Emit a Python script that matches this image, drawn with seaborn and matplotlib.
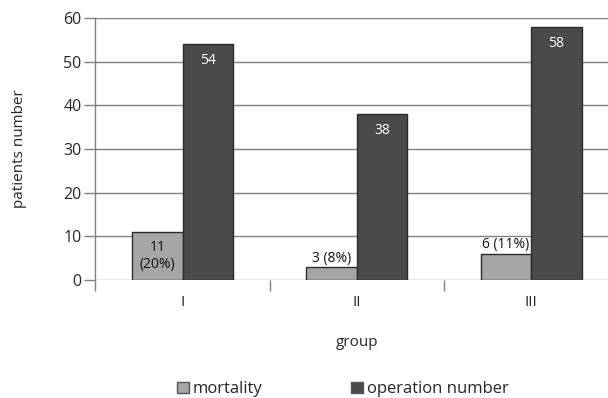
import matplotlib
matplotlib.use("Agg")
import matplotlib.pyplot as plt
import seaborn as sns
import pandas as pd
from matplotlib.patches import Patch

groups = ["I", "II", "III"]
mortality = [11, 3, 6]
mortality_pct = [20, 8, 11]
operations = [54, 38, 58]
series = ["mortality", "operation number"]

df = pd.DataFrame({
    "group": groups * 2,
    "series": [series[0]] * 3 + [series[1]] * 3,
    "value": mortality + operations,
})

sns.set_theme(style="white")
plt.rcParams["font.family"] = ["Open Sans", "DejaVu Sans"]

fill = {"mortality": "#a6a6a6", "operation number": "#4a4a4a"}

fig = plt.figure(figsize=(6.08, 3.98), dpi=100)
ax = fig.add_axes([0.157, 0.2965, 0.860, 0.658])

sns.barplot(data=df, x="group", y="value", hue="series", order=groups,
            hue_order=series, palette=fill, width=0.58, gap=0,
            edgecolor="#2b2b2b", linewidth=1.0, ax=ax, legend=False, zorder=3)

ax.set_xlim(-0.5, 2.5)
ax.set_ylim(0, 60)
ax.set_yticks(range(0, 61, 10))
ax.yaxis.grid(True, color="#808080", linewidth=1.0, zorder=0)
ax.set_axisbelow(True)
for side in ["top", "right", "bottom"]:
    ax.spines[side].set_visible(False)
ax.spines["left"].set_color("#808080")
ax.spines["left"].set_linewidth(1.0)

ax.tick_params(axis="y", which="major", length=8, width=1.0, color="#808080",
               direction="out", left=True, labelsize=11.5, pad=2)
ax.tick_params(axis="x", which="major", length=0, labelsize=11, pad=11)
ax.set_xticks([-0.5, 0.5, 1.5], minor=True)
ax.tick_params(axis="x", which="minor", length=8, width=1.0, color="#808080",
               direction="out", bottom=True)

ax.set_xlabel("group", fontsize=11, labelpad=18)
ax.set_ylabel("patients number", fontsize=11, labelpad=26)

# value labels
bw = 0.29
for i, (m, p, o) in enumerate(zip(mortality, mortality_pct, operations)):
    xm = i - bw / 2
    xo = i + bw / 2
    if m >= 10:
        ax.text(xm, m / 2, f"{m}\n({p}%)", ha="center", va="center",
                fontsize=10, color="#111111", linespacing=1.1, zorder=5)
    else:
        ax.text(xm, m + 0.3, f"{m} ({p}%)", ha="center", va="bottom",
                fontsize=10, color="#111111", zorder=5)
    ax.text(xo, o - 2.0, f"{o}", ha="center", va="top", fontsize=10,
            color="white", zorder=5)

handles = [Patch(facecolor=fill[s], edgecolor="#555555", linewidth=1.0) for s in series]
fig.legend(handles, series, loc="center", bbox_to_anchor=(0.564, 0.022),
           ncol=2, frameon=False, fontsize=12, handlelength=0.7,
           handleheight=0.7, handletextpad=0.25, columnspacing=5.3)

fig.savefig("out.png", dpi=100)
